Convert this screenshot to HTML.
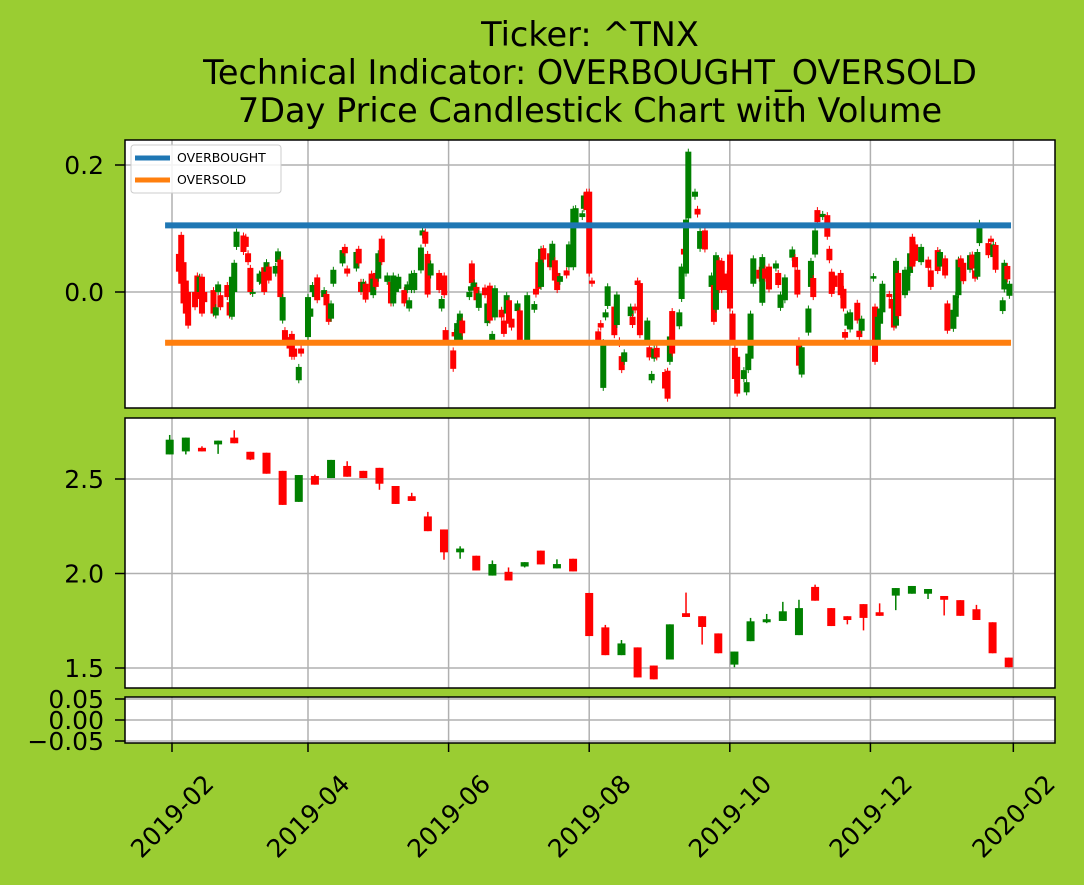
<!DOCTYPE html>
<html><head><meta charset="utf-8">
<style>
html,body{margin:0;padding:0;background:#9acd32;}
svg{display:block;font-family:"DejaVu Sans","Liberation Sans",sans-serif;}
</style></head>
<body>
<svg id="chart" width="1084" height="885" viewBox="0 0 1084 885" xmlns="http://www.w3.org/2000/svg">
<rect x="0" y="0" width="1084" height="885" fill="#9acd32"/>
<g font-size="33.5" text-anchor="middle" fill="#000">
<text x="590" y="46">Ticker: ^TNX</text>
<text x="590" y="84">Technical Indicator: OVERBOUGHT_OVERSOLD</text>
<text x="590" y="122">7Day Price Candlestick Chart with Volume</text>
</g>
<rect x="125" y="140" width="930" height="268" fill="#fff"/>
<rect x="125" y="418" width="930" height="270" fill="#fff"/>
<rect x="125" y="697" width="930" height="46" fill="#fff"/>
<g id="grid"></g>
<g id="marks"></g>
<g id="frames"></g>
<g id="axes"></g>
<g>
<rect x="131" y="145" width="150" height="48" rx="3" fill="#fff" fill-opacity="0.85" stroke="#ccc"/>
<line x1="135" y1="158" x2="170" y2="158" stroke="#1f77b4" stroke-width="5"/>
<text x="177" y="162" font-size="12.5">OVERBOUGHT</text>
<line x1="135" y1="180" x2="170" y2="180" stroke="#ff7f0e" stroke-width="5"/>
<text x="177" y="184" font-size="12.5">OVERSOLD</text>
</g>
</svg>
<script>
// ---- data ----
const weekOpen = [2.63,2.646,2.665,2.683,2.719,2.644,2.639,2.543,2.379,2.516,2.505,2.569,2.543,2.559,2.463,2.409,2.302,2.233,2.112,2.094,1.989,2.009,2.037,2.121,2.027,2.078,1.897,1.715,1.568,1.609,1.513,1.545,1.79,1.774,1.683,1.518,1.642,1.742,1.749,1.674,1.929,1.817,1.774,1.838,1.795,1.883,1.893,1.893,1.881,1.859,1.811,1.742,1.555];
const weekClose = [2.708,2.719,2.646,2.703,2.689,2.603,2.528,2.363,2.521,2.47,2.601,2.512,2.505,2.475,2.368,2.384,2.224,2.112,2.132,2.016,2.05,1.963,2.06,2.048,2.05,2.011,1.669,1.568,1.63,1.45,1.44,1.731,1.77,1.717,1.578,1.587,1.747,1.758,1.8,1.817,1.856,1.722,1.754,1.765,1.776,1.923,1.934,1.918,1.861,1.776,1.754,1.578,1.504];
const weekHigh = [2.733,2.719,2.673,2.703,2.758,2.644,2.639,2.543,2.521,2.523,2.601,2.594,2.543,2.559,2.463,2.427,2.326,2.233,2.144,2.094,2.069,2.032,2.06,2.121,2.075,2.078,1.897,1.728,1.648,1.609,1.513,1.731,1.899,1.774,1.683,1.587,1.765,1.786,1.85,1.861,1.941,1.817,1.774,1.838,1.842,1.923,1.934,1.918,1.881,1.859,1.834,1.742,1.555];
const weekLow = [2.63,2.63,2.646,2.633,2.689,2.6,2.528,2.363,2.379,2.47,2.505,2.512,2.505,2.443,2.368,2.384,2.224,2.073,2.078,2.016,1.989,1.963,2.032,2.048,2.027,2.011,1.669,1.568,1.568,1.45,1.44,1.545,1.77,1.624,1.578,1.504,1.642,1.737,1.749,1.674,1.856,1.722,1.731,1.699,1.776,1.806,1.893,1.865,1.778,1.776,1.754,1.578,1.504];
const oscDays = [3,4,5,6,7,10,11,12,13,14,18,19,20,21,24,25,26,27,28,31,32,33,34,35,38,39,40,41,42,45,46,47,48,49,51,52,53,55,56,59,60,61,62,63,66,67,68,69,70,74,75,76,80,81,82,83,84,86.6,87.3,88.4,89.5,91,
93.4,95,96,97.1,98.2,100.8,102.1,102.9,103.9,105.1,108,108.7,109.9,110.9,112.2,115.9,117,118.1,118.7,122,122.6,123.7,124.9,125.9,129,129.7,130.1,131.1,132.1,133.1,135.8,136.8,137.9,138.9,140.1,143,144,145.2,146.2,147.3,149.9,150.9,154.1,157.2,157.9,158.9,160.1,161.1,164,165,166.1,167.1,168.3,171.2,172.2,174.1,175.1,178,178.7,179.9,181,182.2,
184.9,186,187.1,188.1,189,191.9,193,194.1,195.1,196.2,199,199.8,200.9,202,203,206.2,207.1,208.1,209.2,210.3,213.9,215,216,217,220.1,221.1,222.1,223,224,226.9,228,229.1,231.2,234.1,235.1,236,237.4,238.5,240.9,242.1,243.2,244.2,245.2,248.1,249.3,250,251,252.2,254.8,256.1,257.3,259,262,263,264,265.9,269.1,270.3,271.3,272,273.2,276.1,277.2,278.2,
279,280,282.3,284.3,285.2,286.2,287.4,290.1,291.3,292,293,294.2,297.3,298.2,299.2,304.3,305,306.2,307.2,308.2,311.2,312.2,313.2,314.1,315.1,318,319,320.2,321.2,322.4,325,328.1,329.2,332.2,333.2,335.4,336.4,339,340,341.2,342.2,343.3,346.2,347.2,348.4,349.4,350.3,354.2,355.3,356.3,357.3,360.4,361.1,362.4,363.3];
const oscOpen = [.060,.090,.047,.018,0,0,.026,0,.024,0,.003,-.037,0,-.005,.011,-.016,-.039,0,.071,.089,.087,.061,.038,-.003,.016,.013,.039,.032,.040,.029,.047,.051,-.045,-.060,-.071,-.066,-.089,-.139,-.089,-.071,-.039,0,-.008,.023,-.008,-.003,-.018,-.042,.013,.045,.071,.037,.037,.068,.016,0,.013,.029,-.005,.030,.021,.084,
.016,.016,-.018,0,.005,.003,.003,-.026,.003,.003,.034,.089,.095,.060,.026,.030,-.026,.026,-.060,-.092,-.063,-.076,-.076,-.045,-.008,.002,.045,.005,.008,-.025,.007,-.049,.010,-.076,-.040,-.028,-.045,-.034,-.013,-.042,-.030,-.029,-.076,-.028,.005,.047,.008,.069,.061,.039,.050,.030,.016,.034,.039,.039,.108,.118,.131,.158,.158,.018,
-.062,-.049,-.151,-.040,-.022,-.023,-.052,-.076,-.101,-.110,-.038,-.039,-.023,.018,.014,-.079,-.087,-.139,-.105,-.088,-.126,-.124,-.110,-.030,-.054,-.011,.068,.029,.116,.150,.131,.068,.097,.008,.011,-.028,.050,.049,.029,.059,-.034,-.088,-.102,-.137,-.158,-.123,-.105,.013,.035,-.017,.037,.040,.037,.030,-.025,-.013,.054,.055,.035,-.076,-.130,-.064,.008,.022,
.059,.129,.118,.121,.068,.032,.026,.030,.005,-.063,-.053,-.059,-.017,-.061,-.061,.021,-.023,-.076,-.050,-.032,-.003,-.011,-.021,-.053,.030,-.005,.002,.030,.087,.075,.047,.051,.034,.066,.040,.053,-.018,-.058,-.039,-.005,.053,.046,.035,.059,.034,.024,.077,.077,.084,.055,.074,-.030,.004,.041,-.006];
const oscClose = [.032,.013,-.018,-.034,-.053,-.024,-.011,.024,-.034,-.016,-.034,-.024,.012,-.024,-.008,-.037,.024,.046,.095,.063,.071,.047,0,0,.029,.032,0,.047,.018,.041,.064,-.008,-.008,-.076,-.089,-.102,-.102,-.118,-.097,-.008,-.026,.011,.008,-.013,.003,-.021,-.047,-.018,.035,.066,.061,.029,.063,.045,0,.016,-.012,0,.021,.008,.061,.047,
.026,-.018,.026,.021,.024,-.018,.012,-.013,.029,.030,.070,.097,.076,-.004,.045,.003,-.011,-.005,-.076,-.121,-.070,-.049,-.034,-.065,0,.009,.014,.015,-.013,-.002,-.005,-.018,-.045,-.066,.006,-.040,-.066,-.005,-.050,-.056,-.018,-.076,-.005,-.019,-.004,.005,.068,.051,.039,.076,.018,.003,.025,.026,.075,.131,.132,.124,.152,.129,.029,.013,
-.076,-.056,-.079,-.032,.009,-.068,-.004,-.082,-.123,-.095,-.023,-.052,-.029,.011,-.068,-.045,-.103,-.129,-.089,-.103,-.152,-.168,-.070,-.097,-.032,.040,.059,.114,.221,.158,.122,.096,.067,.026,-.047,.058,.003,.003,.003,-.026,-.076,-.137,-.160,-.123,-.142,-.097,-.034,.053,.021,.055,.021,.004,.045,.011,-.004,.023,.067,.039,-.004,-.116,-.087,-.026,.049,-.008,
.097,.110,.123,.087,.050,-.003,.008,-.005,-.026,-.072,-.034,-.032,-.045,-.071,-.042,.025,-.110,-.039,-.026,.013,-.008,-.026,-.056,.049,-.038,.035,.035,.061,.040,.049,.071,.038,.008,.033,.063,.026,-.061,-.028,-.005,.051,.039,.017,.058,.037,.021,.063,.109,.058,.079,.075,.035,-.013,.046,.020,.013];
const overbought = 0.105;
const oversold = -0.08;
const xTickLabels = ['2019-02','2019-04','2019-06','2019-08','2019-10','2019-12','2020-02'];
const xTickDays = [0,59,120,181,242,303,365];
const oscTicks = [0.0,0.2];
const oscTickLabels = ['0.0','0.2'];
const priceTicks = [1.5,2.0,2.5];
const priceTickLabels = ['1.5','2.0','2.5'];
const volTicks = [0.05,0.0,-0.05];
const volTickLabels = ['0.05','0.00','\u22120.05'];

// ---- scales ----
const X0=125, X1=1055;
const xs = d => 172 + d*2.305;
const yOsc = v => 292 - v*635;
const yPrice = p => 479 - (p-2.5)*189;
const yVol = v => 720 - v*420;
const NS='http://www.w3.org/2000/svg';
function mk(tag, attrs, parent){const e=document.createElementNS(NS,tag);for(const k in attrs)e.setAttribute(k,attrs[k]);parent.appendChild(e);return e;}
const grid=document.getElementById('grid'), marks=document.getElementById('marks'), frames=document.getElementById('frames'), axes=document.getElementById('axes');
const panels=[[140,408],[418,688],[697,743]];

xTickDays.forEach((d,i)=>{
  const x=xs(d);
  panels.forEach(p=>{
    const l=mk('line',{x1:x,x2:x,y1:p[0],y2:p[1],stroke:'#b0b0b0','stroke-width':1.5},grid);
    
    
  });
  const t=mk('line',{x1:x,x2:x,y1:743,y2:752,stroke:'#000','stroke-width':1.5},axes);
  
  
  const tx=mk('text',{x:0,y:9,'font-size':25,'text-anchor':'middle',transform:`translate(${x},${816}) rotate(-45)`},axes);
  tx.textContent=xTickLabels[i];
  
  
});
function yTicks(vals,labels,fy,name){
  vals.forEach((v,i)=>{
    const y=fy(v);
    const g=mk('line',{x1:X0,x2:X1,y1:y,y2:y,stroke:'#b0b0b0','stroke-width':1.5},grid);
    
    
    const t=mk('line',{x1:X0-10,x2:X0,y1:y,y2:y,stroke:'#000','stroke-width':1.5},axes);
    
    
    const tx=mk('text',{x:X0-21,y:y+9,'font-size':25,'text-anchor':'end'},axes);
    tx.textContent=labels[i];
    
    
  });
}
yTicks(oscTicks,oscTickLabels,yOsc,'indicator-y');
yTicks(priceTicks,priceTickLabels,yPrice,'price-y');
yTicks(volTicks,volTickLabels,yVol,'volume-y');

oscDays.forEach((d,i)=>{
  const o=oscOpen[i], c=oscClose[i];
  const col = c>=o ? 'green' : 'red';
  const x=xs(d);
  const w=mk('line',{x1:x,x2:x,y1:yOsc(Math.max(o,c))-3,y2:yOsc(Math.min(o,c))+3,stroke:col,'stroke-width':1},marks);
  
  
  const top=yOsc(Math.max(o,c)), bot=yOsc(Math.min(o,c));
  const r=mk('rect',{x:x-3,y:top,width:6,height:Math.max(1.5,bot-top),fill:col},marks);
  
  
});
[[overbought,'#1f77b4','overbought-line'],[oversold,'#ff7f0e','oversold-line']].forEach(a=>{
  const l=mk('line',{x1:xs(-3),x2:xs(364),y1:yOsc(a[0]),y2:yOsc(a[0]),stroke:a[1],'stroke-width':6},marks);
  
  
});
weekOpen.forEach((o,i)=>{
  const c=weekClose[i];
  const d=-1+7*i;
  const x=xs(d);
  const col = c>=o ? 'green' : 'red';
  const w=mk('line',{x1:x,x2:x,y1:yPrice(weekHigh[i]),y2:yPrice(weekLow[i]),stroke:col,'stroke-width':1.5},marks);
  
  
  const top=yPrice(Math.max(o,c)), bot=yPrice(Math.min(o,c));
  const r=mk('rect',{x:x-4,y:top,width:8,height:Math.max(1.5,bot-top),fill:col},marks);
  
  
});
panels.forEach((p,i)=>{
  const f=mk('rect',{x:X0,y:p[0],width:X1-X0,height:p[1]-p[0],fill:'none',stroke:'#000','stroke-width':1.5},frames);
  
  
});
</script>
</body></html>
